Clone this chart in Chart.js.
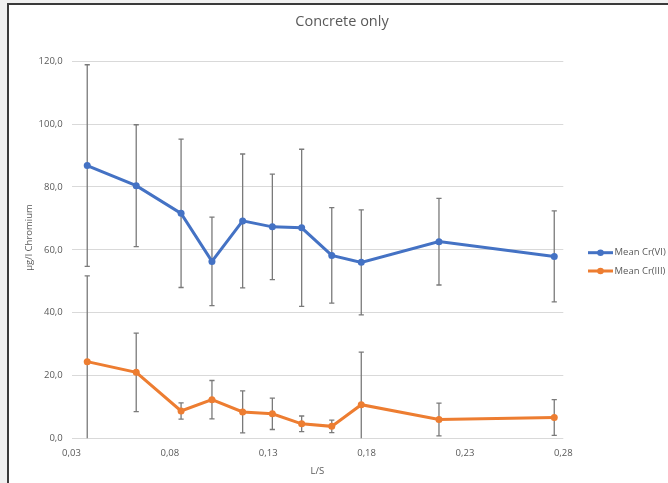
<!DOCTYPE html>
<html>
<head>
<meta charset="utf-8">
<title>Concrete only</title>
<script src="https://cdn.jsdelivr.net/npm/chart.js@4.4.1/dist/chart.umd.min.js"></script>
<style>
  html, body { margin: 0; padding: 0; width: 668px; height: 483px; overflow: hidden; background: #f0f0f0; }
  #frame { position: absolute; left: 7px; top: 3px; width: 720px; height: 520px; background: #ffffff;
           border-left: 2px solid #3a3a3a; border-top: 2px solid #3a3a3a; }
  #chart { position: absolute; left: 0; top: 0; }
</style>
</head>
<body>
<div id="frame"></div>
<canvas id="chart" width="668" height="483"></canvas>
<script>
// L/S ratio of each leaching step
const ls = [0.038, 0.0629, 0.0857, 0.1014, 0.1170, 0.1321, 0.1470, 0.1623, 0.1773, 0.2168, 0.2754];

// Mean concentrations (µg/l) and standard deviations
const meanCrVI  = [86.8, 80.4, 71.6, 56.3, 69.2, 67.3, 67.0, 58.2, 56.0, 62.6, 57.9];
const sdCrVI    = [32.1, 19.4, 23.6, 14.1, 21.3, 16.8, 25.0, 15.2, 16.7, 13.8, 14.5];
const meanCrIII = [24.4, 21.0, 8.7, 12.3, 8.4, 7.8, 4.6, 3.8, 10.7, 6.0, 6.6];
const sdCrIII   = [27.3, 12.5, 2.6, 6.1, 6.7, 5.0, 2.5, 2.0, 16.7, 5.2, 5.7];

// Axis ticks
const xTicks = [0.03, 0.08, 0.13, 0.18, 0.23, 0.28];
const yTicks = [0, 20, 40, 60, 80, 100, 120];

const seriesNames = ['Mean Cr(VI)', 'Mean Cr(III)'];
const seriesColors = ['#4472C4', '#ED7D31'];
const sds = [sdCrVI, sdCrIII];

const FONT = '"Open Sans", "Noto Sans", sans-serif';
const TEXT = '#595959';

const fmt = (v, d) => v.toFixed(d).replace('.', ',');

// Symmetric error bars drawn under the lines
const errorBars = {
  id: 'errorBars',
  beforeDatasetsDraw(chart) {
    const { ctx, chartArea: a } = chart;
    const ys = chart.scales.y;
    ctx.save();
    ctx.strokeStyle = '#7a7a7a';
    ctx.lineWidth = 1.3;
    chart.data.datasets.forEach((ds, i) => {
      const meta = chart.getDatasetMeta(i);
      meta.data.forEach((pt, j) => {
        const v = ds.data[j].y, sd = sds[i][j];
        let top = ys.getPixelForValue(v + sd);
        let bot = ys.getPixelForValue(v - sd);
        const capTop = top >= a.top, capBot = bot <= a.bottom;
        top = Math.max(top, a.top);
        bot = Math.min(bot, a.bottom);
        const x = pt.x;
        ctx.beginPath();
        ctx.moveTo(x, top); ctx.lineTo(x, bot);
        if (capTop) { ctx.moveTo(x - 2.6, top); ctx.lineTo(x + 2.6, top); }
        if (capBot) { ctx.moveTo(x - 2.6, bot); ctx.lineTo(x + 2.6, bot); }
        ctx.stroke();
      });
    });
    ctx.restore();
  }
};

// Title, axis titles and legend
const decorations = {
  id: 'decorations',
  afterDraw(chart) {
    const { ctx, chartArea: a } = chart;
    ctx.save();
    ctx.fillStyle = TEXT;
    ctx.textAlign = 'center';
    ctx.textBaseline = 'middle';
    ctx.font = '14.5px ' + FONT;
    ctx.fillText('Concrete only', 342, 22);

    ctx.font = '9.5px ' + FONT;
    ctx.fillText('L/S', (a.left + a.right) / 2, 471.5);

    ctx.save();
    ctx.translate(29.5, 237.5);
    ctx.rotate(-Math.PI / 2);
    ctx.fillText('µg/l Chromium', 0, 0);
    ctx.restore();

    ctx.textAlign = 'left';
    const legendY = [252.7, 271];
    seriesNames.forEach((name, i) => {
      const y = legendY[i];
      ctx.strokeStyle = seriesColors[i];
      ctx.lineWidth = 3;
      ctx.beginPath();
      ctx.moveTo(588, y); ctx.lineTo(613, y);
      ctx.stroke();
      ctx.fillStyle = seriesColors[i];
      ctx.beginPath();
      ctx.arc(600.5, y, 3.3, 0, Math.PI * 2);
      ctx.fill();
      ctx.fillStyle = TEXT;
      ctx.fillText(name, 614.5, y);
    });
    ctx.restore();
  }
};

const makeSeries = (vals, i) => ({
  label: seriesNames[i],
  data: ls.map((x, j) => ({ x, y: vals[j] })),
  showLine: true,
  borderColor: seriesColors[i],
  backgroundColor: seriesColors[i],
  borderWidth: 3,
  pointRadius: 3.5,
  pointHoverRadius: 3.5,
  pointBorderWidth: 0,
  tension: 0
});

new Chart(document.getElementById('chart'), {
  type: 'scatter',
  data: { datasets: [makeSeries(meanCrVI, 0), makeSeries(meanCrIII, 1)] },
  options: {
    responsive: false,
    animation: false,
    devicePixelRatio: 1,
    layout: { padding: { left: 0, top: 61.3, right: 104.7, bottom: 0 } },
    plugins: { legend: { display: false }, title: { display: false }, tooltip: { enabled: false } },
    scales: {
      x: {
        type: 'linear',
        min: 0.03, max: 0.28,
        afterFit(s) { s.height = 44.7; },
        afterBuildTicks(s) { s.ticks = xTicks.map(v => ({ value: v })); },
        grid: { display: false, drawTicks: false },
        border: { display: false },
        ticks: { padding: 9, color: TEXT, font: { family: FONT, size: 9.5 }, maxRotation: 0,
                 callback: v => fmt(v, 2) }
      },
      y: {
        type: 'linear',
        min: 0, max: 120,
        afterFit(s) { s.width = 71.5; },
        afterBuildTicks(s) { s.ticks = yTicks.map(v => ({ value: v })); },
        grid: { color: '#d9d9d9', lineWidth: 1, drawTicks: false },
        border: { display: false },
        ticks: { padding: 8.8, color: TEXT, font: { family: FONT, size: 9.5 },
                 callback: v => fmt(v, 1) }
      }
    }
  },
  plugins: [errorBars, decorations]
});
</script>
</body>
</html>
